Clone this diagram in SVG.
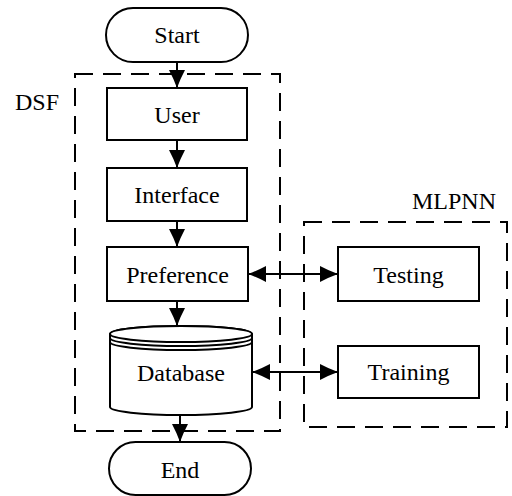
<svg xmlns="http://www.w3.org/2000/svg" width="512" height="496" viewBox="0 0 512 496">
<style>
.n{fill:#fff;stroke:#000;stroke-width:2}
.g{fill:none;stroke:#000;stroke-width:2;stroke-dasharray:18 10}
.t{font-family:'Liberation Serif','Times New Roman',serif;font-size:24px;fill:#000;text-anchor:middle}
.l{font-family:'Liberation Serif','Times New Roman',serif;font-size:24px;fill:#000}
.c{fill:none;stroke:#000;stroke-width:2}
</style>
<defs>
<marker id="ah" markerUnits="userSpaceOnUse" markerWidth="20" markerHeight="18" viewBox="-19 -9 20 18" refX="0" refY="0" orient="auto-start-reverse">
<path d="M0,0 Q-9,-3.2 -18,-8 L-18,8 Q-9,3.2 0,0 Z" fill="#000"/>
</marker>
</defs>
<rect width="512" height="496" fill="#fff"/>
<g id="group-DSF">
<rect class="g" x="75" y="74" width="205" height="357"/>
<text class="l" x="15" y="110">DSF</text>
</g>
<g id="group-MLPNN">
<rect class="g" x="304" y="222" width="203" height="205"/>
<text class="l" x="412" y="209">MLPNN</text>
</g>
<g id="connectors">
<line class="c" x1="177" y1="62" x2="177" y2="88" marker-end="url(#ah)"/>
<line class="c" x1="177" y1="140" x2="177" y2="168" marker-end="url(#ah)"/>
<line class="c" x1="177" y1="221" x2="177" y2="247" marker-end="url(#ah)"/>
<line class="c" x1="177" y1="301" x2="177" y2="326" marker-end="url(#ah)"/>
<line class="c" x1="180" y1="415" x2="180" y2="442" marker-end="url(#ah)"/>
<line class="c" x1="248" y1="274" x2="338" y2="274" marker-start="url(#ah)" marker-end="url(#ah)"/>
<line class="c" x1="252" y1="372" x2="338" y2="372" marker-start="url(#ah)" marker-end="url(#ah)"/>
</g>
<g id="start">
<rect class="n" x="106" y="8" width="142" height="54" rx="27" ry="27"/>
<text class="t" x="177" y="43">Start</text>
</g>
<g id="user">
<rect class="n" x="107" y="88" width="140" height="52"/>
<text class="t" x="177" y="123">User</text>
</g>
<g id="interface">
<rect class="n" x="107" y="168" width="140" height="53"/>
<text class="t" x="177" y="203">Interface</text>
</g>
<g id="preference">
<rect class="n" x="107" y="247" width="141" height="54"/>
<text class="t" x="177.5" y="283">Preference</text>
</g>
<g id="database">
<path class="n" d="M110,334 L110,407 A71,8 0 0 0 252,407 L252,334 A71,8 0 0 0 110,334 Z"/>
<ellipse class="n" cx="181" cy="334" rx="71" ry="8"/>
<path class="c" d="M110,338 A71,8 0 0 0 252,338 M110,342 A71,8 0 0 0 252,342"/>
<text class="t" x="181" y="381">Database</text>
</g>
<g id="end">
<rect class="n" x="109" y="442" width="142" height="53" rx="26.5" ry="26.5"/>
<text class="t" x="180" y="478">End</text>
</g>
<g id="testing">
<rect class="n" x="338" y="247" width="141" height="54"/>
<text class="t" x="408.5" y="283">Testing</text>
</g>
<g id="training">
<rect class="n" x="338" y="346" width="141" height="52"/>
<text class="t" x="408.5" y="380">Training</text>
</g>
</svg>
